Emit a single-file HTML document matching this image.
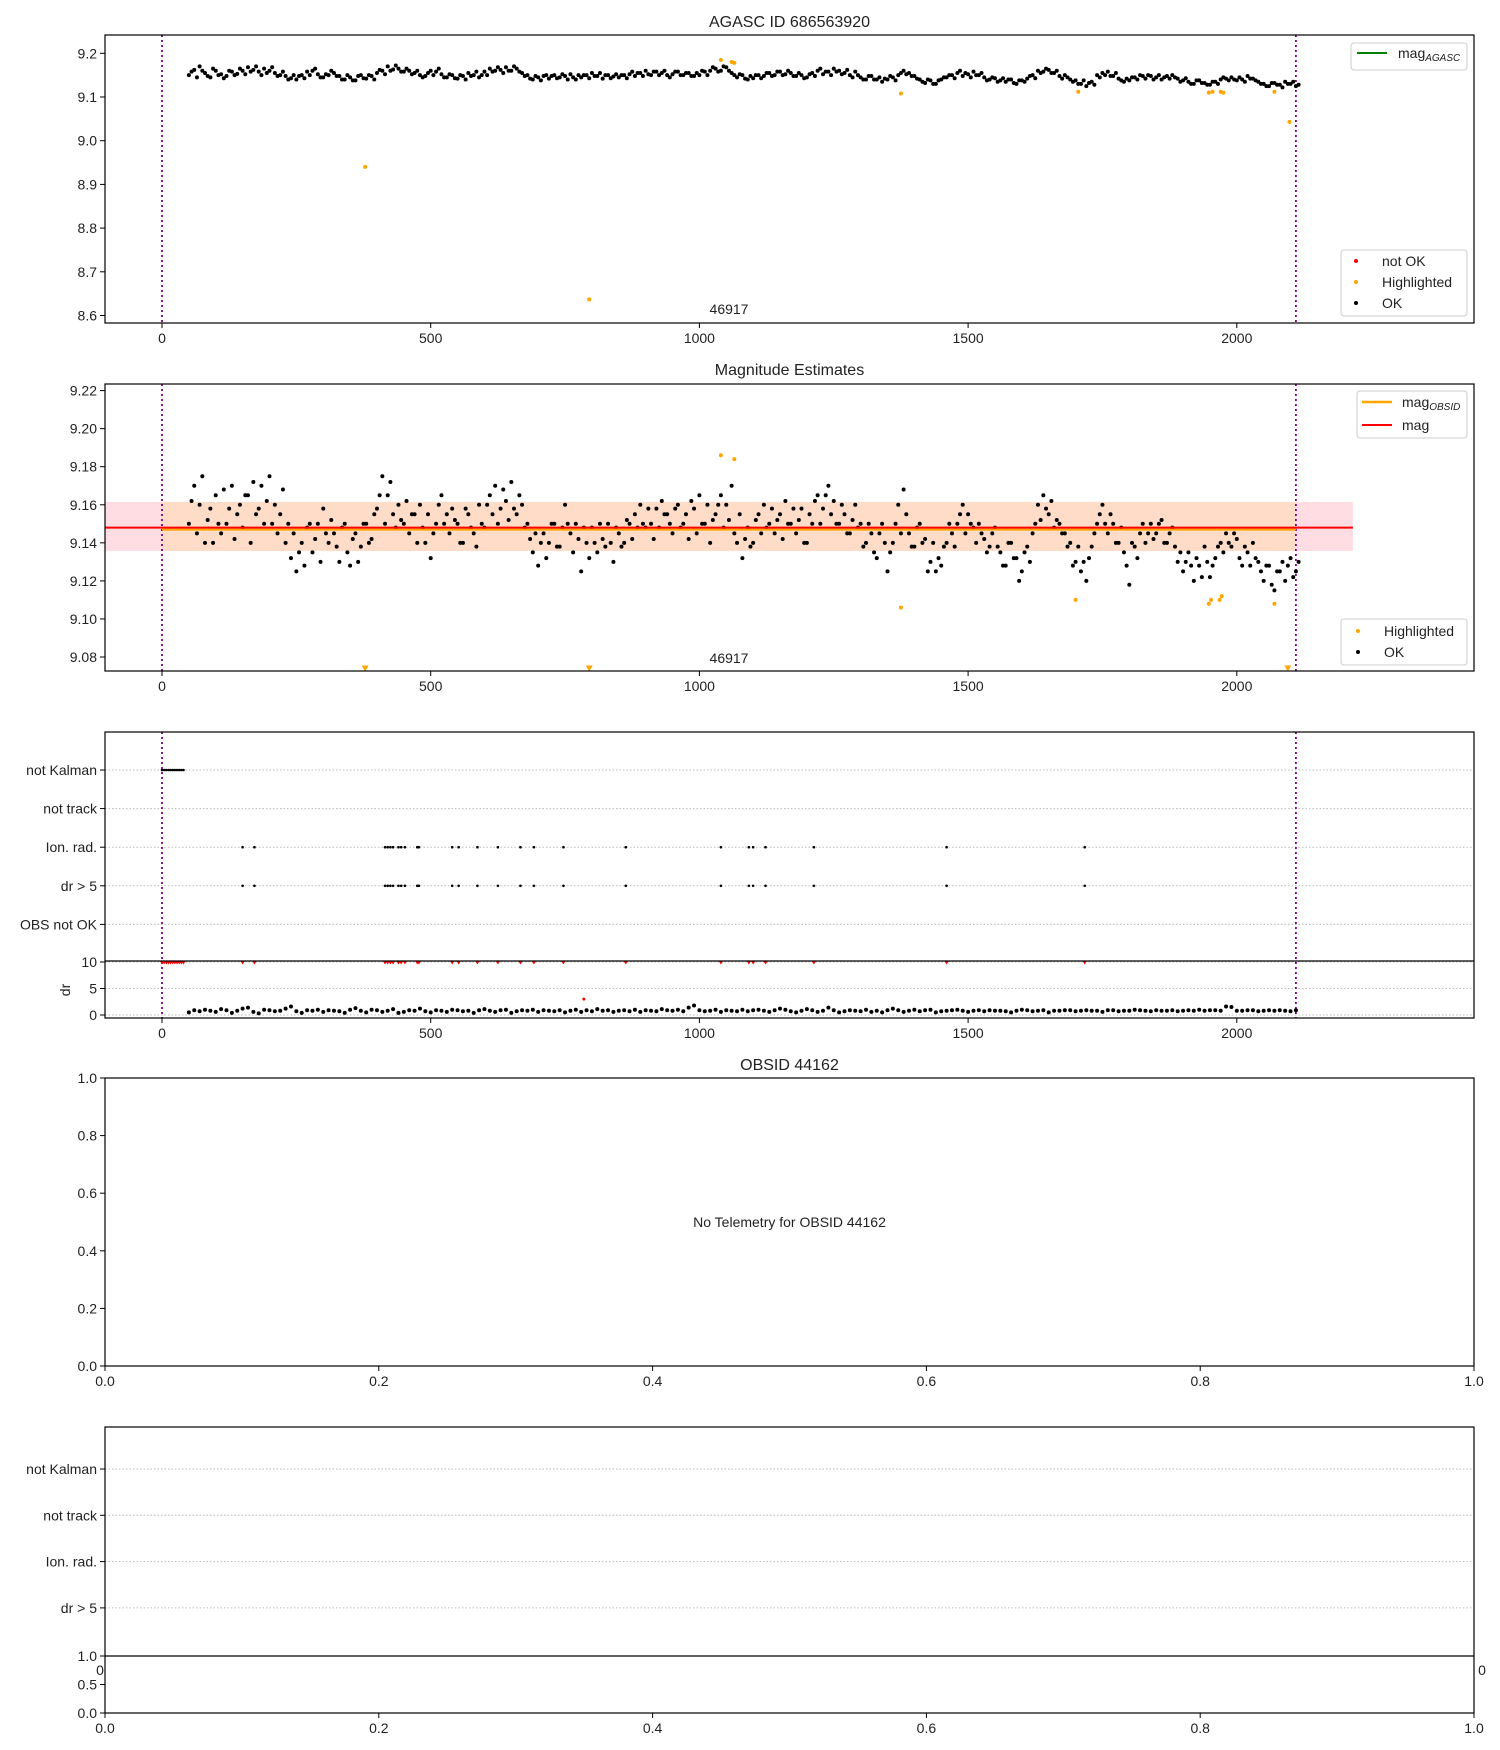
<!DOCTYPE html>
<html><head><meta charset="utf-8">
<style>
html,body{margin:0;padding:0;background:#fff;}
svg{display:block;font-family:"Liberation Sans","DejaVu Sans",sans-serif;}
text{fill:#222;}
</style></head>
<body>
<svg id="fig" width="1500" height="1750" viewBox="0 0 1500 1750" xmlns="http://www.w3.org/2000/svg"></svg>
<script>
// ---------- data ----------
const xStart = 50, xStep = 10, xStartB = 55;
const mag1 = [9.150,9.162,9.170,9.155,9.145,9.160,9.152,9.148,9.158,9.153,
9.160,9.168,9.162,9.158,9.165,9.160,9.155,9.150,9.148,9.143,
9.140,9.150,9.158,9.160,9.152,9.145,9.150,9.155,9.148,9.140,
9.145,9.138,9.150,9.142,9.148,9.155,9.160,9.170,9.163,9.165,
9.158,9.160,9.155,9.150,9.148,9.160,9.158,9.152,9.145,9.150,
9.142,9.148,9.155,9.150,9.145,9.158,9.165,9.160,9.162,9.168,
9.160,9.165,9.155,9.150,9.140,9.145,9.148,9.142,9.150,9.145,
9.148,9.152,9.140,9.145,9.150,9.155,9.148,9.142,9.150,9.147,
9.145,9.150,9.152,9.148,9.155,9.160,9.150,9.158,9.155,9.150,
9.152,9.158,9.150,9.155,9.148,9.150,9.158,9.160,9.165,9.160,
9.168,9.155,9.145,9.150,9.140,9.143,9.150,9.148,9.155,9.150,
9.158,9.152,9.155,9.148,9.150,9.145,9.155,9.160,9.152,9.158,
9.165,9.160,9.155,9.150,9.158,9.145,9.140,9.148,9.140,9.135,
9.140,9.145,9.150,9.160,9.155,9.148,9.140,9.132,9.138,9.130,
9.140,9.145,9.150,9.155,9.148,9.152,9.158,9.150,9.145,9.140,
9.143,9.138,9.135,9.140,9.130,9.138,9.142,9.150,9.160,9.158,
9.162,9.155,9.148,9.150,9.140,9.138,9.130,9.125,9.135,9.150,
9.155,9.158,9.148,9.142,9.135,9.138,9.145,9.150,9.142,9.148,
9.145,9.140,9.148,9.150,9.142,9.138,9.135,9.130,9.138,9.132,
9.128,9.135,9.140,9.142,9.145,9.138,9.140,9.148,9.142,9.135,
9.130,9.125,9.132,9.128,9.135,9.130,9.125];
const mag1b = [9.158,9.145,9.160,9.148,9.165,9.150,9.143,9.160,9.150,9.165,
9.152,9.158,9.170,9.150,9.155,9.168,9.148,9.158,9.140,9.150,
9.148,9.143,9.150,9.165,9.145,9.152,9.160,9.148,9.140,9.150,
9.138,9.148,9.143,9.150,9.140,9.162,9.152,9.160,9.172,9.158,
9.165,9.152,9.160,9.145,9.155,9.150,9.165,9.145,9.152,9.143,
9.150,9.140,9.148,9.158,9.150,9.150,9.158,9.168,9.155,9.160,
9.170,9.158,9.148,9.142,9.148,9.138,9.150,9.148,9.143,9.152,
9.140,9.145,9.150,9.150,9.143,9.148,9.155,9.150,9.143,9.152,
9.150,9.143,9.158,9.155,9.148,9.152,9.158,9.150,9.160,9.145,
9.158,9.150,9.155,9.148,9.155,9.160,9.150,9.168,9.158,9.170,
9.160,9.150,9.152,9.142,9.148,9.150,9.143,9.155,9.148,9.158,
9.150,9.160,9.148,9.155,9.143,9.152,9.148,9.165,9.158,9.150,
9.158,9.152,9.162,9.145,9.150,9.140,9.148,9.140,9.145,9.142,
9.148,9.138,9.155,9.152,9.148,9.142,9.135,9.140,9.130,9.138,
9.145,9.150,9.143,9.160,9.155,9.145,9.150,9.155,9.138,9.145,
9.135,9.143,9.140,9.132,9.138,9.135,9.148,9.143,9.155,9.165,
9.155,9.160,9.142,9.145,9.135,9.130,9.138,9.132,9.128,9.145,
9.150,9.148,9.155,9.138,9.142,9.145,9.140,9.148,9.150,9.140,
9.150,9.145,9.142,9.145,9.135,9.143,9.130,9.138,9.132,9.128,
9.135,9.130,9.145,9.138,9.140,9.145,9.135,9.142,9.138,9.130,
9.125,9.132,9.128,9.122,9.130,9.135,9.128];
const mag2 = [9.150,9.170,9.160,9.140,9.158,9.165,9.145,9.150,9.170,9.155,
9.148,9.165,9.172,9.158,9.150,9.175,9.160,9.155,9.140,9.132,
9.125,9.140,9.148,9.135,9.150,9.158,9.140,9.145,9.130,9.150,
9.128,9.145,9.138,9.150,9.142,9.158,9.175,9.165,9.155,9.160,
9.150,9.145,9.155,9.160,9.140,9.132,9.150,9.165,9.155,9.158,
9.150,9.140,9.155,9.145,9.160,9.148,9.165,9.170,9.158,9.162,
9.172,9.155,9.160,9.150,9.135,9.128,9.145,9.140,9.150,9.138,
9.160,9.145,9.150,9.125,9.140,9.148,9.135,9.142,9.150,9.130,
9.145,9.140,9.150,9.155,9.160,9.148,9.150,9.158,9.162,9.155,
9.145,9.160,9.150,9.142,9.158,9.165,9.150,9.140,9.155,9.165,
9.160,9.170,9.140,9.132,9.148,9.140,9.155,9.160,9.150,9.145,
9.155,9.162,9.150,9.145,9.158,9.140,9.150,9.165,9.158,9.170,
9.162,9.150,9.155,9.145,9.160,9.150,9.140,9.145,9.132,9.150,
9.125,9.140,9.160,9.168,9.145,9.138,9.150,9.142,9.130,9.125,
9.128,9.140,9.145,9.150,9.160,9.155,9.148,9.150,9.142,9.138,
9.148,9.135,9.128,9.140,9.132,9.125,9.138,9.145,9.160,9.165,
9.155,9.148,9.150,9.145,9.140,9.130,9.125,9.120,9.138,9.150,
9.160,9.145,9.150,9.140,9.135,9.118,9.138,9.145,9.140,9.150,
9.145,9.152,9.140,9.148,9.130,9.125,9.135,9.120,9.128,9.138,
9.122,9.132,9.140,9.145,9.138,9.142,9.128,9.135,9.140,9.130,
9.120,9.128,9.115,9.125,9.120,9.132,9.125];
const mag2b = [9.162,9.145,9.175,9.152,9.140,9.150,9.168,9.158,9.142,9.160,
9.165,9.140,9.155,9.170,9.162,9.150,9.145,9.168,9.150,9.145,
9.135,9.128,9.150,9.142,9.130,9.145,9.152,9.138,9.148,9.135,
9.142,9.130,9.150,9.140,9.155,9.165,9.150,9.172,9.148,9.152,
9.162,9.155,9.140,9.148,9.155,9.145,9.160,9.150,9.145,9.152,
9.140,9.158,9.148,9.138,9.150,9.160,9.155,9.150,9.168,9.152,
9.158,9.165,9.148,9.142,9.145,9.140,9.132,9.150,9.138,9.148,
9.150,9.135,9.142,9.148,9.132,9.140,9.150,9.138,9.140,9.148,
9.138,9.152,9.142,9.148,9.150,9.158,9.142,9.148,9.155,9.150,
9.158,9.148,9.155,9.162,9.145,9.150,9.160,9.152,9.160,9.148,
9.152,9.145,9.155,9.142,9.138,9.152,9.145,9.148,9.158,9.152,
9.142,9.150,9.158,9.152,9.140,9.155,9.162,9.150,9.165,9.155,
9.150,9.160,9.145,9.152,9.148,9.138,9.150,9.135,9.145,9.140,
9.135,9.150,9.145,9.155,9.138,9.148,9.140,9.125,9.140,9.132,
9.138,9.150,9.138,9.155,9.145,9.150,9.140,9.145,9.135,9.145,
9.138,9.128,9.140,9.132,9.120,9.135,9.130,9.150,9.152,9.158,
9.162,9.152,9.145,9.138,9.128,9.138,9.130,9.132,9.145,9.155,
9.150,9.155,9.140,9.148,9.128,9.140,9.132,9.150,9.145,9.142,
9.150,9.140,9.145,9.138,9.135,9.130,9.128,9.132,9.122,9.130,
9.128,9.138,9.135,9.140,9.145,9.132,9.138,9.128,9.132,9.125,
9.128,9.118,9.125,9.130,9.128,9.122,9.130];
const drStep = 10;
const drVals = [0.5,0.9,0.7,1.0,0.8,0.6,1.1,0.9,0.4,0.8,1.2,1.4,0.6,0.3,1.0,0.9,0.7,0.8,1.2,1.6,
0.7,0.4,0.9,0.8,1.0,0.6,0.9,0.8,0.7,0.4,1.0,1.3,0.8,0.5,1.0,0.9,0.6,0.8,1.1,0.4,
0.6,0.9,0.8,1.2,0.7,0.5,0.9,0.8,0.6,1.0,0.9,0.7,0.8,0.4,0.9,1.1,0.8,0.6,0.9,1.0,
0.4,0.7,0.9,0.8,1.0,0.6,0.9,0.8,0.7,0.9,0.5,0.8,1.0,0.6,0.9,0.7,1.1,0.8,0.9,0.6,
0.8,0.9,0.7,1.0,0.6,0.9,0.8,0.7,1.1,0.9,0.8,1.0,0.7,1.4,1.8,0.9,0.7,0.8,1.0,0.6,
0.9,0.8,0.7,1.0,0.7,0.9,1.0,0.8,0.6,0.9,1.2,1.0,0.7,0.5,0.8,1.1,0.9,0.6,0.8,1.4,
0.9,0.5,0.7,0.9,0.8,0.7,1.0,0.6,0.8,0.5,0.9,1.2,0.9,0.6,0.8,1.0,0.7,0.9,1.0,0.5,
0.7,0.8,0.9,1.0,0.8,0.6,0.8,0.9,0.7,0.9,0.8,0.8,0.7,0.5,0.8,1.0,0.9,0.7,0.8,0.9,
0.5,0.8,0.8,0.9,0.9,0.7,0.8,0.9,0.8,0.8,0.6,0.9,0.9,0.7,0.8,0.8,1.0,0.9,0.8,0.7,
0.9,0.8,0.8,0.9,0.7,0.8,0.9,0.8,1.0,0.8,0.9,0.9,0.8,1.6,1.5,0.8,0.8,0.9,0.9,0.7,
0.8,0.9,0.8,0.9,0.8,0.7,0.9];
const hl1X = [378,795,1040,1060,1065,1375,1705,1948,1955,1970,1975,2070,2098];
const hl1Y = [8.94,8.637,9.185,9.18,9.178,9.108,9.112,9.11,9.112,9.112,9.11,9.112,9.043];
const hl2X = [1040,1065,1375,1700,1948,1952,1968,1972,2070];
const hl2Y = [9.186,9.184,9.106,9.11,9.108,9.11,9.11,9.112,9.108];
const hl2LowX = [378,795,2095];
const kalmanX = [0,4,8,12,16,20,24,28,32,36,40];
const ionX = [150,172,415,420,425,430,440,445,452,475,478,540,552,587,625,667,692,747,863,1040,1092,1100,1123,1213,1460,1717];
const magMean = 9.148, magBandLo = 9.1357, magBandHi = 9.1615;
const obsStart = 0, obsEnd = 2110, bandEnd = 2216;
const p1Ticks = [8.6,8.7,8.8,8.9,9.0,9.1,9.2];
const p2Ticks = [9.08,9.10,9.12,9.14,9.16,9.18,9.20,9.22];
const xTicks = [0,500,1000,1500,2000];
const cats = ["not Kalman","not track","Ion. rad.","dr > 5","OBS not OK"];
const cats5 = ["not Kalman","not track","Ion. rad.","dr > 5"];
const drTicks = [0,5,10];
const fracTicks = [0.0,0.2,0.4,0.6,0.8,1.0];

// ---------- helpers ----------
const NS="http://www.w3.org/2000/svg";
const svg=document.getElementById('fig');
function mk(tag,attrs,parent){const e=document.createElementNS(NS,tag);for(const k in attrs)e.setAttribute(k,attrs[k]);(parent||svg).appendChild(e);return e;}
function txt(s,x,y,anchor,size,parent){const t=mk('text',{x:x,y:y,'text-anchor':anchor||'middle','font-size':size||14},parent);t.textContent=s;return t;}
const L=105,R=1474;
const X=v=>162+v*0.5374;
const Y1=v=>53.3+(9.2-v)*437;
const Y2=v=>390.6+(9.22-v)*1903;
const Yc=i=>770+i*38.6;
const Yd=v=>1015-v*5.3;
const Xf=v=>L+v*(R-L);

function frame(name,top,bot){
  const r=mk('rect',{x:L,y:top,width:R-L,height:bot-top,fill:'none',stroke:'#000','stroke-width':1.2});
  
  
}
function clip(id,top,bot){const c=mk('clipPath',{id:id});mk('rect',{x:L,y:top,width:R-L,height:bot-top},c);}
function xAxis(bot,ticks,fn,fmt,name){
  const g=mk('g',{});
  
  
  ticks.forEach(t=>{const x=fn(t);mk('line',{x1:x,x2:x,y1:bot,y2:bot+5,stroke:'#000'},g);txt(fmt(t),x,bot+20,'middle',14,g);});
}
function yAxis(ticks,fn,fmt,name){
  const g=mk('g',{});
  
  
  ticks.forEach(t=>{const y=fn(t);mk('line',{x1:L-5,x2:L,y1:y,y2:y,stroke:'#000'},g);txt(fmt(t),L-8,y+5,'end',14,g);});
}
function vlines(top,bot,cid){
  [obsStart,obsEnd].forEach(v=>{const l=mk('line',{x1:X(v),x2:X(v),y1:top,y2:bot,stroke:'#800080','stroke-width':1.8,'stroke-dasharray':'2,3','clip-path':'url(#'+cid+')'});
  
  });
}
function dot(x,y,r,col,g){mk('circle',{cx:x,cy:y,r:r,fill:col},g);}
function tri(x,y,col,g,s){s=s||4;mk('path',{d:`M${x-s},${y-s}L${x+s},${y-s}L${x},${y+s-1}Z`,fill:col},g);}

// ---------- panel 1 ----------
const p1T=35,p1B=323;
clip('c1',p1T,p1B);
txt('AGASC ID 686563920',(L+R)/2,27,'middle',16);
vlines(p1T,p1B,'c1');
const g1=mk('g',{'clip-path':'url(#c1)'});


mag1.forEach((v,i)=>dot(X(xStart+i*xStep),Y1(v),2,'#000',g1));
mag1b.forEach((v,i)=>dot(X(xStartB+i*xStep),Y1(v),2,'#000',g1));
const h1=mk('g',{'clip-path':'url(#c1)'});


hl1X.forEach((x,i)=>dot(X(x),Y1(hl1Y[i]),2,'orange',h1));
txt('46917',729,314,'middle',14);
frame('agasc-panel',p1T,p1B);
yAxis(p1Ticks,Y1,v=>v.toFixed(1),'agasc-y-axis');
xAxis(p1B,xTicks,X,v=>String(v),'agasc-x-axis');
// legends
let lg=mk('g',{});


mk('rect',{x:1351,y:43,width:116,height:27,rx:3,fill:'#fff',stroke:'#ccc'},lg);
mk('line',{x1:1357,x2:1387,y1:53,y2:53,stroke:'green','stroke-width':2},lg);
const ta=txt('mag',1398,58,'start',14,lg);const ts=mk('tspan',{'font-size':10,'font-style':'italic',dy:3},ta);ts.textContent='AGASC';
lg=mk('g',{});


mk('rect',{x:1341,y:250,width:126,height:66,rx:3,fill:'#fff',stroke:'#ccc'},lg);
[['not OK','red'],['Highlighted','orange'],['OK','#000']].forEach((e,i)=>{dot(1356,261+i*21,2,e[1],lg);txt(e[0],1382,266+i*21,'start',14,lg);});

// ---------- panel 2 ----------
const p2T=384,p2B=671;
clip('c2',p2T,p2B);
txt('Magnitude Estimates',(L+R)/2,375,'middle',16);
const band=mk('rect',{x:L,y:Y2(magBandHi),width:X(bandEnd)-L,height:Y2(magBandLo)-Y2(magBandHi),fill:'#ffdde2'});


const band2=mk('rect',{x:X(obsStart),y:Y2(magBandHi),width:X(obsEnd)-X(obsStart),height:Y2(magBandLo)-Y2(magBandHi),fill:'#ffdcc8'});


vlines(p2T,p2B,'c2');
const g2=mk('g',{'clip-path':'url(#c2)'});


mag2.forEach((v,i)=>dot(X(xStart+i*xStep),Y2(v),2,'#000',g2));
mag2b.forEach((v,i)=>dot(X(xStartB+i*xStep),Y2(v),2,'#000',g2));
const ol=mk('line',{x1:X(obsStart),x2:X(obsEnd),y1:Y2(magMean)+2,y2:Y2(magMean)+2,stroke:'orange','stroke-width':2});


const rl=mk('line',{x1:L,x2:X(bandEnd),y1:Y2(magMean),y2:Y2(magMean),stroke:'red','stroke-width':2});


const h2=mk('g',{'clip-path':'url(#c2)'});


hl2X.forEach((x,i)=>dot(X(x),Y2(hl2Y[i]),2,'orange',h2));
hl2LowX.forEach(x=>tri(X(x),p2B-2,'orange',h2,3.5));
txt('46917',729,663,'middle',14);
frame('magnitude-panel',p2T,p2B);
yAxis(p2Ticks,Y2,v=>v.toFixed(2),'magnitude-y-axis');
xAxis(p2B,xTicks,X,v=>String(v),'magnitude-x-axis');
lg=mk('g',{});


mk('rect',{x:1357,y:391,width:110,height:47,rx:3,fill:'#fff',stroke:'#ccc'},lg);
mk('line',{x1:1362,x2:1392,y1:402,y2:402,stroke:'orange','stroke-width':2.5},lg);
const tb=txt('mag',1402,407,'start',14,lg);const ts2=mk('tspan',{'font-size':10,'font-style':'italic',dy:3},tb);ts2.textContent='OBSID';
mk('line',{x1:1362,x2:1392,y1:425,y2:425,stroke:'red','stroke-width':2},lg);
txt('mag',1402,430,'start',14,lg);
lg=mk('g',{});


mk('rect',{x:1341,y:619,width:126,height:46,rx:3,fill:'#fff',stroke:'#ccc'},lg);
[['Highlighted','orange'],['OK','#000']].forEach((e,i)=>{dot(1358,631+i*21,2,e[1],lg);txt(e[0],1384,636+i*21,'start',14,lg);});

// ---------- panel 3 ----------
const p3T=732,p3M=961,p3B=1018;
clip('c3',p3T,p3B);
const gg=mk('g',{});


cats.forEach((c,i)=>{mk('line',{x1:L,x2:R,y1:Yc(i),y2:Yc(i),stroke:'#bbb','stroke-dasharray':'1.5,2'},gg);mk('line',{x1:L-5,x2:L,y1:Yc(i),y2:Yc(i),stroke:'#000'},gg);txt(c,L-8,Yc(i)+5,'end',14,gg);});
drTicks.forEach(t=>{mk('line',{x1:L,x2:R,y1:Yd(t),y2:Yd(t),stroke:'#bbb','stroke-dasharray':'1.5,2'},gg);mk('line',{x1:L-5,x2:L,y1:Yd(t),y2:Yd(t),stroke:'#000'},gg);txt(String(t),L-8,Yd(t)+5,'end',14,gg);});
txt('dr',0,0,'middle',14).setAttribute('transform','translate(70,990) rotate(-90)');
vlines(p3T,p3B,'c3');
const gf=mk('g',{'clip-path':'url(#c3)'});


kalmanX.forEach(x=>{dot(X(x),Yc(0),1.3,'#000',gf);tri(X(x),Yd(10)+1,'red',gf,2.5);});
ionX.forEach(x=>{dot(X(x),Yc(2),1.3,'#000',gf);dot(X(x),Yc(3),1.3,'#000',gf);tri(X(x),Yd(10)+1,'red',gf,2.5);});
const gd=mk('g',{'clip-path':'url(#c3)'});


drVals.forEach((v,i)=>dot(X(xStart+i*drStep),Yd(v),2,'#000',gd));
dot(X(785),Yd(3),1.5,'red',gd);
mk('line',{x1:L,x2:R,y1:p3M,y2:p3M,stroke:'#000','stroke-width':1.2});
frame('flags-panel',p3T,p3B);
xAxis(p3B,xTicks,X,v=>String(v),'flags-x-axis');

// ---------- panel 4 ----------
const p4T=1078,p4B=1366;
txt('OBSID 44162',(L+R)/2,1070,'middle',16);
frame('obsid-panel',p4T,p4B);
const Y4=v=>p4B-v*(p4B-p4T);
yAxis(fracTicks,Y4,v=>v.toFixed(1),'obsid-y-axis');
xAxis(p4B,fracTicks,Xf,v=>v.toFixed(1),'obsid-x-axis');
txt('No Telemetry for OBSID 44162',(L+R)/2,1227,'middle',14);

// ---------- panel 5 ----------
const p5T=1427,p5M=1656,p5B=1713;
const g5=mk('g',{});


cats5.forEach((c,i)=>{const y=1469+i*46.3;mk('line',{x1:L,x2:R,y1:y,y2:y,stroke:'#bbb','stroke-dasharray':'1.5,2'},g5);mk('line',{x1:L-5,x2:L,y1:y,y2:y,stroke:'#000'},g5);txt(c,L-8,y+5,'end',14,g5);});
mk('line',{x1:L,x2:R,y1:p5M,y2:p5M,stroke:'#000','stroke-width':1.2});
frame('obsid-flags-panel',p5T,p5B);
const Y5=v=>p5B-v*(p5B-p5M);
yAxis([0,0.5,1.0],Y5,v=>v.toFixed(1),'obsid-dr-y-axis');
xAxis(p5B,fracTicks,Xf,v=>v.toFixed(1),'obsid-flags-x-axis');
txt('0',100,1675,'middle',14);
txt('0',1482,1675,'middle',14);
</script>
</body></html>
